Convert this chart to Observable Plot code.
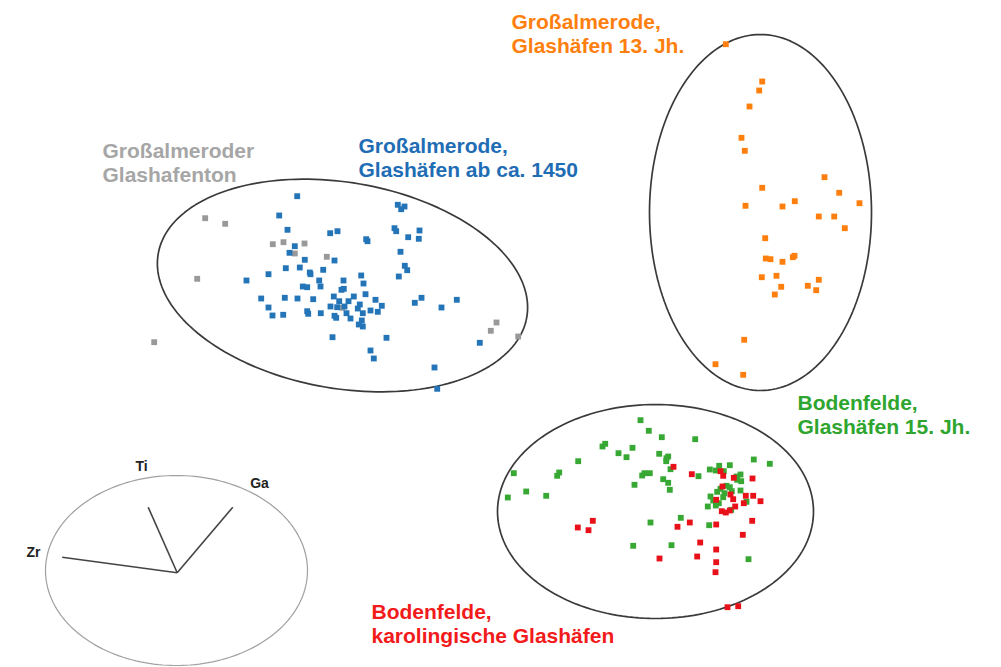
<!DOCTYPE html>
<html>
<head>
<meta charset="utf-8">
<script src="https://cdn.jsdelivr.net/npm/d3@7"></script>
<script src="https://cdn.jsdelivr.net/npm/@observablehq/plot@0.6"></script>
<style>
  html, body { margin: 0; padding: 0; background: #fff; }
  #chart svg { display: block; font-family: "Liberation Sans", Arial, Helvetica, sans-serif; }
</style>
</head>
<body>
<div id="chart"></div>
<script>
// Score-plot coordinates (chart units, x to the right, y downwards)
const greyPoints = [
  [204.7,217.7],[224.7,223.3],[272.3,243.7],[283,241.7],[304,243],[294.3,253],[326.3,256.3],
  [196.7,278.3],[153.7,341.7],[341.7,307.3],[496,322],[490.3,330.3],[517.7,336]
];
const bluePoints = [
  [296.7,195.7],[278.7,215],[287,229.3],[329.7,232.7],[337,230.7],[365.7,238.7],[367,240.7],
  [294.3,245.7],[289,252.3],[304.3,259.3],[334,260],[285.3,267.7],[299.3,267],[309.3,272],
  [310,273.7],[322.7,269.3],[268,273.7],[246,280],[318.7,280],[320,286],[343,280],[360.7,275],
  [363,283],[302.3,286],[306.7,286.7],[341,289.3],[343.3,288.3],[365,293.7],[260.7,298],
  [284.3,297.3],[297,298],[312.7,298.7],[333.3,296],[338.7,300.7],[348,300.7],[353.3,296],
  [359.3,304],[344,306],[375,299.3],[381.3,305.3],[268,307],[330,306],[336.7,306.7],
  [306.7,310.7],[307.7,313.3],[320.3,312.7],[272,315],[282.7,314.3],[334,315.3],[335.7,317.3],
  [346,312.7],[350,318],[357.3,308],[362.3,312.7],[370,310],[377.3,311.3],[361.3,320],
  [358.3,324],[362.3,326],[332,336.7],[386,337.3],[370,350],[373.3,358],
  [397.3,204.3],[400.7,208.7],[404,206],[394,227.7],[395.7,230.7],[407.7,236.7],[419,230],
  [418.3,238.3],[400,251.3],[404.3,265.3],[406.7,269.7],[398.3,276],[414.3,302.3],[421,297.3],
  [441,307],[456.3,299.3],[479.3,342.3],[434,367],[436.7,388.3]
];
const orangePoints = [
  [725.3,43.7],[761.7,81],[758.7,90],[749,106],[741,137.3],[744.3,150.3],[824,176.7],
  [761.7,187.3],[838.7,192.3],[859,202.7],[745,205.3],[782,206],[794.3,200.7],[818.3,216],
  [833.7,216],[844.3,227.7],[764.7,237.7],[765.3,258],[770,258.7],[782,261.3],[792.3,256.7],
  [794,255.3],[761.3,276.7],[776,275.3],[780.7,286.3],[774.3,294],[807.3,285.3],[815.7,289.7],
  [818.3,279.3],[743.7,339.3],[715,363.7],[742.7,374.3]
];
const greenPoints = [
  [640,419.7],[648.3,430.3],[661.3,436.7],[694.7,438.7],[602,446],[604.7,443.3],[618,452.7],
  [626,456.7],[632,447.3],[658.7,453.3],[666,457.7],[667.7,456],[665.7,460.7],[670,468.7],
  [577.7,460.7],[513.3,472.7],[556.7,475.3],[558.7,472],[641.7,475],[644,472.7],[649.3,472.7],
  [662.7,478.7],[667.7,482.3],[669.3,489.3],[634,484.3],[525.7,491],[507.3,497],[545.7,495.3],
  [698,475.7],[709.3,469],[715.3,470],[718.7,465.3],[729.3,464.7],[723.3,470.7],[736,476],
  [740,474],[740.7,480.7],[736.7,479.3],[726,485.3],[729.3,486.7],[720,488.3],[716.7,491.3],
  [724,492.7],[731.3,490.7],[740,490],[722.7,496.7],[710,496],[712.7,500],[718.3,502.7],
  [707.3,506],[715.3,505],[730.7,509.3],[746,501.3],[753.3,459],[769.3,463.3],
  [680.3,517.3],[650,522],[708.7,524.7],[632.7,545.3],[671,544.7],[748,558.7]
];
const redPoints = [
  [673,466.3],[691.3,473.7],[720,470.7],[722.7,475.3],[733.3,477.3],[752,478],[722,486],
  [730,494],[732.7,498.7],[745.3,495.3],[752.7,495.3],[760,500.7],[743.3,502.7],[721.3,510.7],
  [725.3,512],[729.3,510],[734.7,506],[715.7,499.3],[592.3,520.3],[577.3,527],[588,529.7],
  [677,526.3],[689.3,522],[715.7,524],[751.7,520.3],[742.3,534.3],[699.7,542],[715.7,549],
  [659,558],[696.7,556],[715.7,561.7],[715,571.7],[727,606.7],[737.7,605.7]
];

// Group ellipses: centre x, centre y, semi-axis a, semi-axis b, rotation (degrees)
const groupEllipses = [
  {cx: 342, cy: 285, a: 187, b: 103, angle: 9.75},
  {cx: 760, cy: 212, a: 111, b: 178, angle: 0},
  {cx: 655, cy: 511, a: 158, b: 107, angle: 0}
];

// Loadings inset (biplot)
const insetEllipse = {cx: 176, cy: 570, a: 131, b: 95, angle: 0};
const loadingOrigin = [176.7, 572.3];
const loadingNames = ["Zr", "Ti", "Ga"];
const loadingEnds = [[61.7, 556.7], [147.7, 506.7], [232.3, 506.7]];
const loadingLabelPos = [[33, 552], [141, 466], [259, 483]];

// Group labels
const labelTexts = [
  "Großalmeroder\nGlashafenton",
  "Großalmerode,\nGlashäfen ab ca. 1450",
  "Großalmerode,\nGlashäfen 13. Jh.",
  "Bodenfelde,\nGlashäfen 15. Jh.",
  "Bodenfelde,\nkarolingische Glashäfen"
];
const labelPos = [[102, 140], [358, 135], [511, 11], [797, 392], [371, 601]];
const labelColors = ["#a6a6a6", "#1f6db5", "#ff7f0e", "#2ea52e", "#f21a1a"];

function ellipsePath(e) {
  const t = e.angle * Math.PI / 180;
  return d3.range(0, 361, 2).map(d => {
    const u = d * Math.PI / 180;
    return {
      x: e.cx + e.a * Math.cos(u) * Math.cos(t) - e.b * Math.sin(u) * Math.sin(t),
      y: e.cy + e.a * Math.cos(u) * Math.sin(t) + e.b * Math.sin(u) * Math.cos(t)
    };
  });
}

const toObj = arr => arr.map(([x, y]) => ({x, y}));
const pointGroups = [
  {pts: greyPoints, color: "#999999"},
  {pts: bluePoints, color: "#2474b8"},
  {pts: orangePoints, color: "#ff7f0e"},
  {pts: greenPoints, color: "#37a833"},
  {pts: redPoints, color: "#e8111a"}
];

const loadings = loadingNames.map((n, i) => ({
  name: n, x1: loadingOrigin[0], y1: loadingOrigin[1],
  x2: loadingEnds[i][0], y2: loadingEnds[i][1],
  lx: loadingLabelPos[i][0], ly: loadingLabelPos[i][1]
}));
const labels = labelTexts.map((t, i) => ({text: t, x: labelPos[i][0], y: labelPos[i][1], color: labelColors[i]}));

const marks = [];
groupEllipses.forEach(e => marks.push(Plot.line(ellipsePath(e), {x: "x", y: "y", stroke: "#3a3a3a", strokeWidth: 1.7})));
marks.push(Plot.line(ellipsePath(insetEllipse), {x: "x", y: "y", stroke: "#a0a0a0", strokeWidth: 1.2}));
marks.push(Plot.link(loadings, {x1: "x1", y1: "y1", x2: "x2", y2: "y2", stroke: "#444", strokeWidth: 1.6}));
marks.push(Plot.text(loadings, {x: "lx", y: "ly", text: "name", fontSize: 14, fontWeight: "bold", fill: "#222"}));
pointGroups.forEach(g => marks.push(Plot.dot(toObj(g.pts), {x: "x", y: "y", symbol: "square", r: 3.3, fill: g.color})));
marks.push(Plot.text(labels, {x: "x", y: "y", text: "text", fill: "color", textAnchor: "start", lineAnchor: "top", fontSize: 21, fontWeight: "bold", lineHeight: 1.16}));

const chart = Plot.plot({
  width: 1001,
  height: 667,
  margin: 0,
  x: {domain: [0, 1001], axis: null},
  y: {domain: [667, 0], axis: null},
  marks
});
document.getElementById("chart").appendChild(chart);
</script>
</body>
</html>
